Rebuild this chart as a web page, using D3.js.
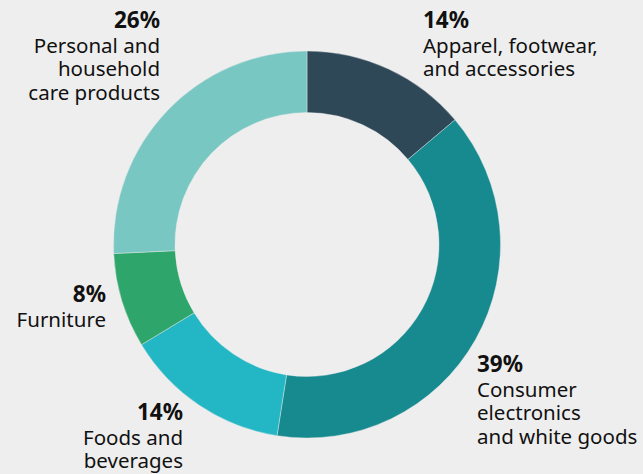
<!DOCTYPE html>
<html>
<head>
<meta charset="utf-8">
<script src="https://cdn.jsdelivr.net/npm/d3@7"></script>
<style>
  html, body { margin: 0; padding: 0; background: #eeeeee; }
  svg { display: block; }
  text { font-family: "Noto Sans", "Open Sans", sans-serif; fill: #111; }
</style>
</head>
<body>
<div id="chart"></div>
<script>
// data (clockwise from 12 o'clock)
var categories = ["Apparel, footwear, and accessories", "Consumer electronics and white goods",
                  "Foods and beverages", "Furniture", "Personal and household care products"];
var shares = [14, 39, 14, 8, 26];
var labelLines = [
    ["Apparel, footwear,", "and accessories"],
    ["Consumer", "electronics", "and white goods"],
    ["Foods and", "beverages"],
    ["Furniture"],
    ["Personal and", "household", "care products"]
];

// look & layout
var colors = ["#2f4858", "#178a8f", "#23b6c4", "#2ea56a", "#79c7c3"];
var labelPos = [ // x, y of the percent baseline, anchor
    [423, 28, "start"],
    [477, 372, "start"],
    [183, 420, "end"],
    [106, 302, "end"],
    [160, 28, "end"]
];

function init() {
    var w = 643, h = 474;
    var cx = 307, cy = 244.5;
    var outerR = 193.5, innerR = 132;

    var svg = d3.select("#chart")
        .append("svg")
        .attr("width", w)
        .attr("height", h);

    svg.append("rect")
        .attr("width", w)
        .attr("height", h)
        .attr("fill", "#eeeeee");

    var pie = d3.pie()
        .value(function(d) { return d; })
        .sort(null);

    var arc = d3.arc()
        .innerRadius(innerR)
        .outerRadius(outerR);

    var g = svg.append("g")
        .attr("transform", "translate(" + cx + "," + cy + ")");

    g.selectAll("path")
        .data(pie(shares))
        .enter()
        .append("path")
        .attr("d", arc)
        .attr("fill", function(d, i) { return colors[i]; })
        .attr("stroke", "#eeeeee")
        .attr("stroke-width", 0.4);

    // labels
    var labels = svg.selectAll("g.label")
        .data(categories)
        .enter()
        .append("g")
        .attr("class", "label")
        .attr("transform", function(d, i) {
            return "translate(" + labelPos[i][0] + "," + labelPos[i][1] + ")";
        })
        .attr("text-anchor", function(d, i) { return labelPos[i][2]; });

    labels.append("text")
        .attr("font-size", "22.5px")
        .attr("font-weight", "bold")
        .text(function(d, i) { return shares[i] + "%"; });

    labels.each(function(d, i) {
        var sel = d3.select(this);
        labelLines[i].forEach(function(line, j) {
            sel.append("text")
                .attr("y", 24.5 + j * 23.7)
                .attr("font-size", "20.5px")
                .text(line);
        });
    });
}

window.onload = init;
</script>
</body>
</html>
